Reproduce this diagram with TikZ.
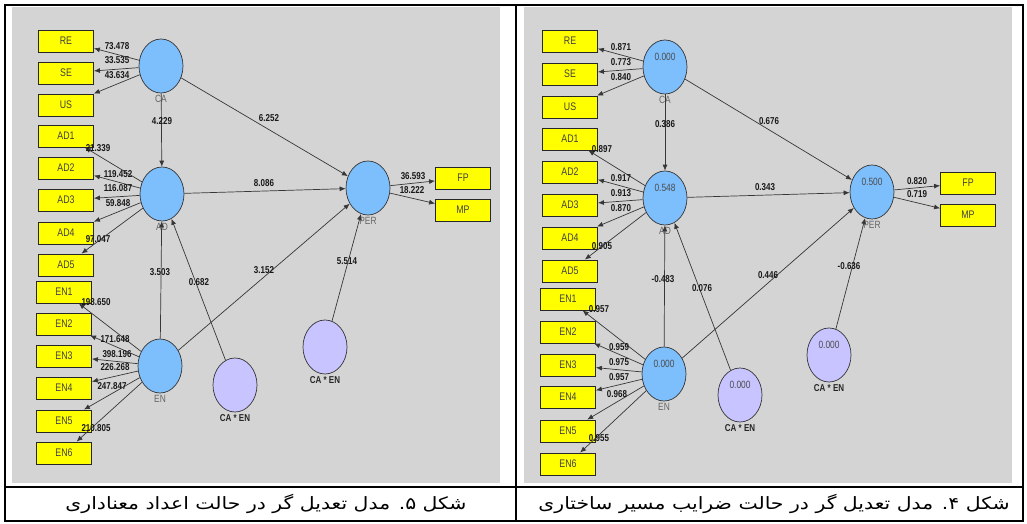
\documentclass[tikz,border=0pt]{standalone}
\usepackage{fontspec}
\usepackage{tikz}
\usetikzlibrary{arrows.meta}
\usetikzlibrary{shapes.geometric}
\setmainfont{Liberation Sans}
\newfontfamily\plsfont[FakeStretch=0.8]{Liberation Sans}
\newfontfamily\farsifont[Script=Arabic, FakeStretch=1.2]{DejaVu Sans}
\TeXXeTstate=1
\definecolor{panelgray}{RGB}{212,212,212}
\definecolor{edgegray}{RGB}{55,55,55}
\definecolor{latentblue}{RGB}{125,190,252}
\definecolor{moderblue}{RGB}{200,196,255}
\definecolor{indyellow}{RGB}{255,255,0}
\tikzset {
  % table rules and grey canvas
  rule/.style={line width=1.6pt},
  panel/.style={fill=panelgray, draw=none},
  % constructs and the interaction terms
  latent/.style={draw=edgegray, line width=0.7pt, fill=latentblue, ellipse, minimum width=44pt, minimum height=54pt, inner sep=0pt},
  moder/.style={latent, fill=moderblue},
  % yellow indicator boxes
  ind/.style={draw=black!85, line width=0.8pt, fill=indyellow, minimum width=55pt, minimum height=22pt, inner sep=0pt, text=black!75, font=\plsfont\fontsize{11}{12}\selectfont},
  lname/.style={text=black!60, inner sep=1.5pt, font=\plsfont\fontsize{10.5}{12}\selectfont},
  mname/.style={text=black!85, inner sep=1.5pt, font=\plsfont\bfseries\fontsize{10}{12}\selectfont},
  val/.style={text=black!70, yshift=10pt, font=\plsfont\fontsize{10.5}{12}\selectfont},
  % weights on the paths
  wt/.style={text=black!90, inner sep=0pt, font=\plsfont\bfseries\fontsize{10}{12}\selectfont},
  pth/.style={draw=edgegray, line width=0.7pt, -{Latex[length=6pt,width=5pt]}},
  figcap/.style={font=\farsifont\fontsize{17}{19}\selectfont},
}
\begin{document}
\begin{tikzpicture}[x=1pt, y=-1pt]
  \useasboundingbox (0,0) rectangle (1027,524);
  \fill[panel] (12,7) rectangle (500,483);
  \fill[panel] (524,7) rectangle (1012,483);
  \draw[rule] (5,5) rectangle (1023,521);
  \draw[rule] (516,5) -- (516,521);
  \draw[rule] (5,487) -- (1023,487);

  % t values
  \node[latent, label={[lname]below:CA}] (lCA) at (161,66) {};
  \node[latent, label={[lname]below:AD}] (lAD) at (162,194) {};
  \node[latent, label={[lname]below:EN}] (lEN) at (160,366) {};
  \node[latent, label={[lname]below:PER}] (lPER) at (368,188) {};
  \node[moder, label={[mname]below:CA * EN}] (lIntA) at (235,385) {};
  \node[moder, label={[mname]below:CA * EN}] (lIntP) at (325,347) {};

  \node[ind] (lRE) at (66,41) {RE};
  \node[ind] (lSE) at (66,73) {SE};
  \node[ind] (lUS) at (66,105) {US};
  \node[ind] (lAD1) at (66,136) {AD1};
  \node[ind] (lAD2) at (66,168) {AD2};
  \node[ind] (lAD3) at (66,200) {AD3};
  \node[ind] (lAD4) at (66,233) {AD4};
  \node[ind] (lAD5) at (66,265) {AD5};
  \node[ind] (lEN1) at (64,292) {EN1};
  \node[ind] (lEN2) at (64,324) {EN2};
  \node[ind] (lEN3) at (64,356) {EN3};
  \node[ind] (lEN4) at (64,388) {EN4};
  \node[ind] (lEN5) at (64,421) {EN5};
  \node[ind] (lEN6) at (64,453) {EN6};
  \node[ind] (lFP) at (463,178) {FP};
  \node[ind] (lMP) at (463,210) {MP};

  \draw[pth] (lCA) -- (lRE) node[wt] at (117,46) {73.478};
  \draw[pth] (lCA) -- (lSE) node[wt] at (117,60) {33.535};
  \draw[pth] (lCA) -- (lUS) node[wt] at (117,75) {43.634};
  \draw[pth] (lAD) -- (lAD1) node[wt] at (98,148) {21.339};
  \draw[pth] (lAD) -- (lAD2) node[wt] at (118,174) {119.452};
  \draw[pth] (lAD) -- (lAD3) node[wt] at (118,188) {116.087};
  \draw[pth] (lAD) -- (lAD4) node[wt] at (118,203) {59.848};
  \draw[pth] (lAD) -- (lAD5) node[wt] at (98,239) {97.047};
  \draw[pth] (lEN) -- (lEN1) node[wt] at (96,302) {198.650};
  \draw[pth] (lEN) -- (lEN2) node[wt] at (115,339) {171.648};
  \draw[pth] (lEN) -- (lEN3) node[wt] at (117,354) {398.196};
  \draw[pth] (lEN) -- (lEN4) node[wt] at (115,367) {226.268};
  \draw[pth] (lEN) -- (lEN5) node[wt] at (112,386) {247.847};
  \draw[pth] (lEN) -- (lEN6) node[wt] at (96,428) {210.805};
  \draw[pth] (lCA) -- (lAD) node[wt] at (162,121) {4.229};
  \draw[pth] (lCA) -- (lPER) node[wt] at (269,118) {6.252};
  \draw[pth] (lAD) -- (lPER) node[wt] at (264,183) {8.086};
  \draw[pth] (lEN) -- (lAD) node[wt] at (160,272) {3.503};
  \draw[pth] (lIntA) -- (lAD) node[wt] at (199,282) {0.682};
  \draw[pth] (lEN) -- (lPER) node[wt] at (264,270) {3.152};
  \draw[pth] (lIntP) -- (lPER) node[wt] at (347,261) {5.514};
  \draw[pth] (lPER) -- (lFP) node[wt] at (413,176) {36.593};
  \draw[pth] (lPER) -- (lMP) node[wt] at (412,190) {18.222};

  % path coefficients
  \node[latent, label={[lname]below:CA}, label={[val]center:0.000}] (rCA) at (665,67) {};
  \node[latent, label={[lname]below:AD}, label={[val]center:0.548}] (rAD) at (665,198) {};
  \node[latent, label={[lname]below:EN}, label={[val]center:0.000}] (rEN) at (664,374) {};
  \node[latent, label={[lname]below:PER}, label={[val]center:0.500}] (rPER) at (872,192) {};
  \node[moder, label={[mname]below:CA * EN}, label={[val]center:0.000}] (rIntA) at (740,395) {};
  \node[moder, label={[mname]below:CA * EN}, label={[val]center:0.000}] (rIntP) at (829,355) {};

  \node[ind] (rRE) at (570,41) {RE};
  \node[ind] (rSE) at (570,74) {SE};
  \node[ind] (rUS) at (570,107) {US};
  \node[ind] (rAD1) at (570,139) {AD1};
  \node[ind] (rAD2) at (570,172) {AD2};
  \node[ind] (rAD3) at (570,205) {AD3};
  \node[ind] (rAD4) at (570,238) {AD4};
  \node[ind] (rAD5) at (570,271) {AD5};
  \node[ind] (rEN1) at (568,299) {EN1};
  \node[ind] (rEN2) at (568,332) {EN2};
  \node[ind] (rEN3) at (568,365) {EN3};
  \node[ind] (rEN4) at (568,397) {EN4};
  \node[ind] (rEN5) at (568,431) {EN5};
  \node[ind] (rEN6) at (568,464) {EN6};
  \node[ind] (rFP) at (968,183) {FP};
  \node[ind] (rMP) at (968,215) {MP};

  \draw[pth] (rCA) -- (rRE) node[wt] at (621,47) {0.871};
  \draw[pth] (rCA) -- (rSE) node[wt] at (621,62) {0.773};
  \draw[pth] (rCA) -- (rUS) node[wt] at (621,77) {0.840};
  \draw[pth] (rAD) -- (rAD1) node[wt] at (602,149) {0.897};
  \draw[pth] (rAD) -- (rAD2) node[wt] at (621,178) {0.917};
  \draw[pth] (rAD) -- (rAD3) node[wt] at (621,193) {0.913};
  \draw[pth] (rAD) -- (rAD4) node[wt] at (621,208) {0.870};
  \draw[pth] (rAD) -- (rAD5) node[wt] at (602,246) {0.905};
  \draw[pth] (rEN) -- (rEN1) node[wt] at (599,309) {0.957};
  \draw[pth] (rEN) -- (rEN2) node[wt] at (619,347) {0.959};
  \draw[pth] (rEN) -- (rEN3) node[wt] at (619,362) {0.975};
  \draw[pth] (rEN) -- (rEN4) node[wt] at (619,377) {0.957};
  \draw[pth] (rEN) -- (rEN5) node[wt] at (617,394) {0.968};
  \draw[pth] (rEN) -- (rEN6) node[wt] at (599,438) {0.955};
  \draw[pth] (rCA) -- (rAD) node[wt] at (665,124) {0.386};
  \draw[pth] (rCA) -- (rPER) node[wt] at (769,121) {0.676};
  \draw[pth] (rAD) -- (rPER) node[wt] at (765,187) {0.343};
  \draw[pth] (rEN) -- (rAD) node[wt] at (663,279) {-0.483};
  \draw[pth] (rIntA) -- (rAD) node[wt] at (702,288) {0.076};
  \draw[pth] (rEN) -- (rPER) node[wt] at (768,275) {0.446};
  \draw[pth] (rIntP) -- (rPER) node[wt] at (849,266) {-0.636};
  \draw[pth] (rPER) -- (rFP) node[wt] at (917,181) {0.820};
  \draw[pth] (rPER) -- (rMP) node[wt] at (917,194) {0.719};

  \node[figcap] (capL) at (266,504) {\beginR شکل ۵. مدل تعدیل گر در حالت اعداد معناداری\endR};
  \node[figcap] (capR) at (774,504) {\beginR شکل ۴. مدل تعدیل گر در حالت ضرایب مسیر ساختاری\endR};
\end{tikzpicture}
\end{document}
